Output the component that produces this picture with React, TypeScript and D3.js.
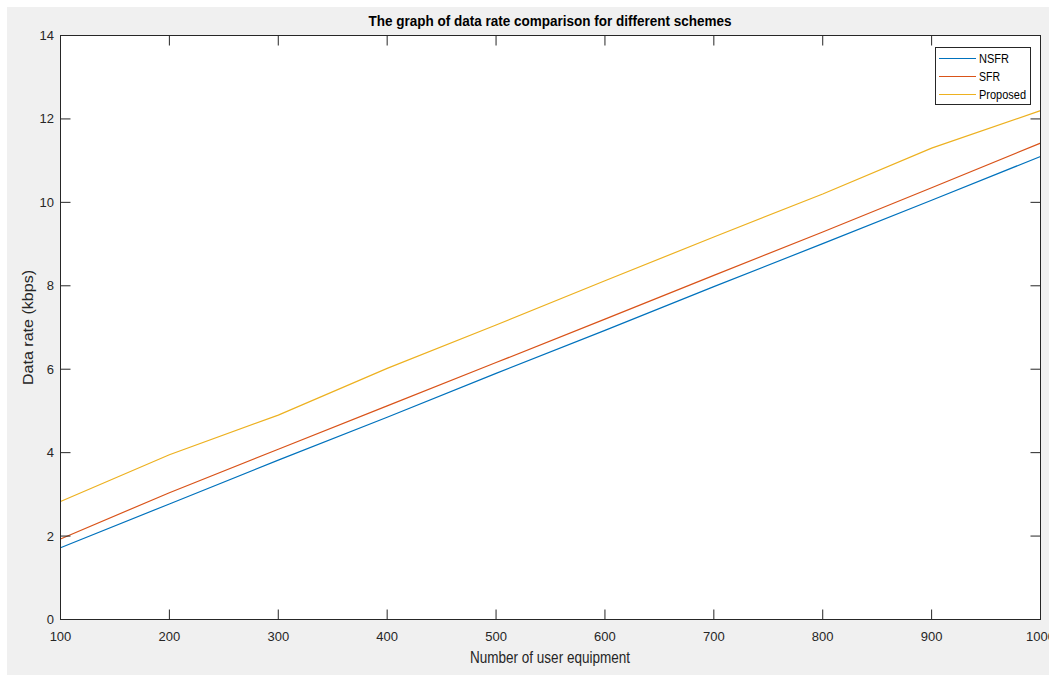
import React from 'react';
import * as d3 from 'd3';

const ueCounts = [100, 200, 300, 400, 500, 600, 700, 800, 900, 1000];
const nsfrRates = [1.72, 2.77, 3.82, 4.85, 5.9, 6.93, 7.98, 9.01, 10.05, 11.1];
const sfrRates = [1.93, 3.04, 4.08, 5.12, 6.16, 7.2, 8.25, 9.29, 10.35, 11.42];
const proposedRates = [2.83, 3.95, 4.9, 6.02, 7.06, 8.12, 9.17, 10.2, 11.3, 12.2];
const seriesNames = ['NSFR', 'SFR', 'Proposed'];
const seriesColors = ['#0072BD', '#D95319', '#EDB120'];
const xTicks = [100, 200, 300, 400, 500, 600, 700, 800, 900, 1000];
const yTicks = [0, 2, 4, 6, 8, 10, 12, 14];

const W = 1049;
const H = 675;
const L = 60.5;
const R = 1040.5;
const T = 35.5;
const B = 619.5;
const AX = '#262626';
const FONT = '"Liberation Sans", Arial, Helvetica, sans-serif';
const legendTextWidths = [30, 21, 47];

export default function App() {
  const x = d3.scaleLinear().domain([100, 1000]).range([L, R]);
  const y = d3.scaleLinear().domain([0, 14]).range([B, T]);
  const allSeries = [nsfrRates, sfrRates, proposedRates];
  const line = d3
    .line<number>()
    .x((_, i) => x(ueCounts[i]))
    .y((d) => y(d));
  const tl = 10;
  const legendRows = [58.5, 76.5, 94.5];

  return (
    <svg
      width={W}
      height={H}
      style={{ position: 'absolute', left: 0, top: 0, display: 'block' }}
      fontFamily={FONT}
    >
      <rect x={0} y={0} width={W} height={H} fill="#ffffff" />
      <rect x={7} y={7} width={W - 7} height={H - 7} fill="#f0f0f0" />
      <rect x={L} y={T} width={R - L} height={B - T} fill="#ffffff" />

      {allSeries.map((s, i) => (
        <path
          key={seriesNames[i]}
          d={line(s) || ''}
          fill="none"
          stroke={seriesColors[i]}
          strokeWidth={1.2}
        />
      ))}

      {xTicks.map((t) => (
        <g key={'xt' + t}>
          <line x1={x(t)} x2={x(t)} y1={B} y2={B - tl} stroke={AX} strokeWidth={1} />
          <line x1={x(t)} x2={x(t)} y1={T} y2={T + tl} stroke={AX} strokeWidth={1} />
          <text x={x(t)} y={641} textAnchor="middle" fontSize={13} fill={AX}>
            {t}
          </text>
        </g>
      ))}
      {yTicks.map((t) => (
        <g key={'yt' + t}>
          <line x1={L} x2={L + tl} y1={y(t)} y2={y(t)} stroke={AX} strokeWidth={1} />
          <line x1={R} x2={R - tl} y1={y(t)} y2={y(t)} stroke={AX} strokeWidth={1} />
          <text x={54} y={y(t) + 4.5} textAnchor="end" fontSize={13} fill={AX}>
            {t}
          </text>
        </g>
      ))}

      <rect x={L} y={T} width={R - L} height={B - T} fill="none" stroke={AX} strokeWidth={1} />

      <text
        x={550}
        y={26}
        textAnchor="middle"
        fontSize={14}
        fontWeight="bold"
        fill="#000"
        textLength={363}
        lengthAdjust="spacingAndGlyphs"
      >
        The graph of data rate comparison for different schemes
      </text>
      <text
        x={550}
        y={663}
        textAnchor="middle"
        fontSize={16}
        fill={AX}
        textLength={160}
        lengthAdjust="spacingAndGlyphs"
      >
        Number of user equipment
      </text>
      <text
        transform={`translate(33,${(T + B) / 2}) rotate(-90)`}
        textAnchor="middle"
        fontSize={15}
        fill={AX}
        textLength={115}
        lengthAdjust="spacingAndGlyphs"
      >
        Data rate (kbps)
      </text>

      <rect x={935.5} y={47.5} width={95} height={57} fill="#ffffff" stroke={AX} strokeWidth={1} />
      {seriesNames.map((n, i) => (
        <g key={'lg' + n}>
          <line
            x1={939}
            x2={976}
            y1={legendRows[i]}
            y2={legendRows[i]}
            stroke={seriesColors[i]}
            strokeWidth={1.2}
          />
          <text
            x={979}
            y={legendRows[i] + 4.5}
            fontSize={12.5}
            fill="#000"
            textLength={legendTextWidths[i]}
            lengthAdjust="spacingAndGlyphs"
          >
            {n}
          </text>
        </g>
      ))}
    </svg>
  );
}
